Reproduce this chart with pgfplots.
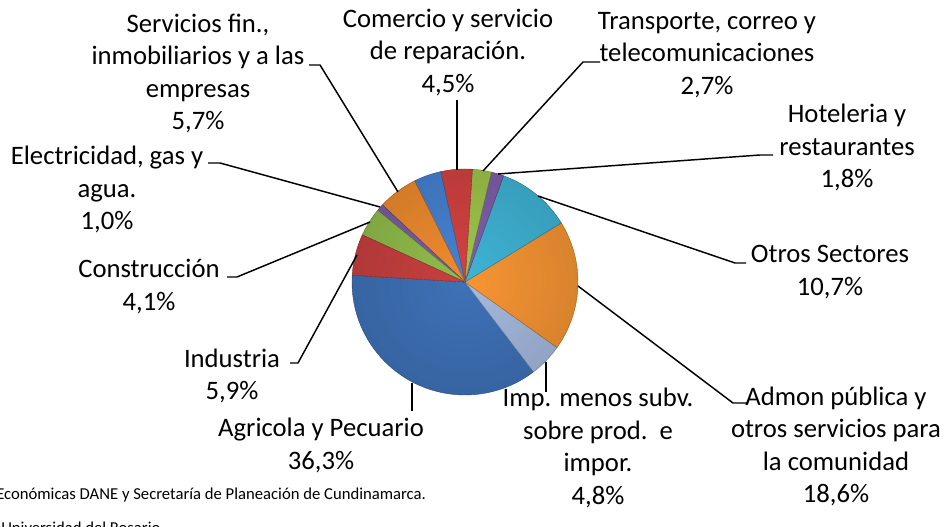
\documentclass[border=0pt]{standalone}
\usepackage{fontspec}
\setmainfont{Carlito}
\usepackage{pgfplots}
\usepackage{pgfplotstable}
\pgfplotsset{compat=1.18}
\usetikzlibrary{fadings}

% slices counter-clockwise, starting at the left (176.6 deg)
\pgfplotstableread{
pct
36.3
4.8
18.6
10.7
1.8
2.7
4.5
3.9
5.7
1.0
4.1
5.9
}\slices

\definecolor{c0}{HTML}{3F72B8}
\definecolor{c1}{HTML}{A6BADF}
\definecolor{c2}{HTML}{F79534}
\definecolor{c3}{HTML}{40B4D6}
\definecolor{c4}{HTML}{7F60AA}
\definecolor{c5}{HTML}{A0C64C}
\definecolor{c6}{HTML}{D44341}
\definecolor{c7}{HTML}{4683D4}
\definecolor{c8}{HTML}{F08C2F}
\definecolor{c9}{HTML}{7D5DA6}
\definecolor{c10}{HTML}{92BE4C}
\definecolor{c11}{HTML}{C84140}

\tikzfading[name=rimfade, inner color=transparent!100, outer color=transparent!88]

\newcommand\lbl{\fontsize{20}{24.4}\selectfont}

\begin{document}
\begin{tikzpicture}
\def\cur{176.6}
\pgfplotsforeachungrouped \i in {0,...,11}{%
  \pgfplotstablegetelem{\i}{pct}\of\slices
  \pgfmathsetmacro{\nxt}{\cur+3.6*\pgfplotsretval}%
  \expandafter\xdef\csname sa\i\endcsname{\cur}%
  \expandafter\xdef\csname sb\i\endcsname{\nxt}%
  \global\let\cur\nxt
}
\begin{axis}[hide axis, scale only axis, x=0.75pt, y=0.75pt,
  xmin=0, xmax=946, ymin=0, ymax=527, clip=false,
  at={(0,0)}, anchor=south west]
\pgfplotsinvokeforeach{0,...,11}{
  \fill[c#1, draw=c#1!70!black, line width=0.3pt] (axis cs:465,245) -- ++({\csname sa#1\endcsname}:84.75pt)
    arc[start angle={\csname sa#1\endcsname}, end angle={\csname sb#1\endcsname}, radius=84.75pt] -- cycle;
}
\fill[black, path fading=rimfade, fit fading=true] (axis cs:465,245) circle[radius=84.75pt];
% leader lines
\begin{scope}[line width=1.1pt, black]
\draw (axis cs:309,462) -- (axis cs:320,462) -- (axis cs:398,335);
\draw (axis cs:457,427) -- (axis cs:457,357);
\draw (axis cs:600,465) -- (axis cs:583,465) -- (axis cs:483,356);
\draw (axis cs:773,372) -- (axis cs:760,372) -- (axis cs:498,353);
\draw (axis cs:746,264) -- (axis cs:735,264) -- (axis cs:538,331);
\draw (axis cs:748,124) -- (axis cs:733,124) -- (axis cs:578,241);
\draw (axis cs:546,165) -- (axis cs:546,135);
\draw (axis cs:412,144) -- (axis cs:412,116);
\draw (axis cs:290,164) -- (axis cs:298,164) -- (axis cs:357,272);
\draw (axis cs:227,250) -- (axis cs:237,250) -- (axis cs:370,305);
\draw (axis cs:208,364) -- (axis cs:220,364) -- (axis cs:380,320);
\end{scope}
% labels
\begin{scope}[every node/.style={align=center, font=\lbl, inner sep=0pt}]
\node at (axis cs:198,453.5) {Servicios fin.,\\inmobiliarios y a las\\empresas\\5,7\%};
\node at (axis cs:448,474.5) {Comercio y servicio\\de reparación.\\4,5\%};
\node at (axis cs:707,472) {Transporte, correo y\\telecomunicaciones\\2,7\%};
\node at (axis cs:847,379.5) {Hoteleria y\\restaurantes\\1,8\%};
\node at (axis cs:830,255) {Otros Sectores\\10,7\%};
\node at (axis cs:836,80.5) {Admon pública y\\otros servicios para\\la comunidad\\18,6\%};
\node at (axis cs:598,79) {Imp. menos subv.\\sobre prod.\ \ e\\impor.\\4,8\%};
\node at (axis cs:321,81.5) {Agricola y Pecuario\\36,3\%};
\node at (axis cs:232,151) {Industria\\5,9\%};
\node at (axis cs:149,240.5) {Construcción\\4,1\%};
\node at (axis cs:107,337.5) {Electricidad, gas y\\agua.\\1,0\%};
\end{scope}
\node[anchor=west, inner sep=0pt, font=\fontsize{12.5}{15}\selectfont] at (axis cs:-4,32) {Económicas DANE y Secretaría de Planeación de Cundinamarca.};
\node[anchor=west, inner sep=0pt, font=\fontsize{12.5}{15}\selectfont] at (axis cs:1,-1) {Universidad del Rosario};
\end{axis}
\pgfresetboundingbox
\path[use as bounding box] (0,0) rectangle (709.5pt,395.25pt);
\end{tikzpicture}
\end{document}
